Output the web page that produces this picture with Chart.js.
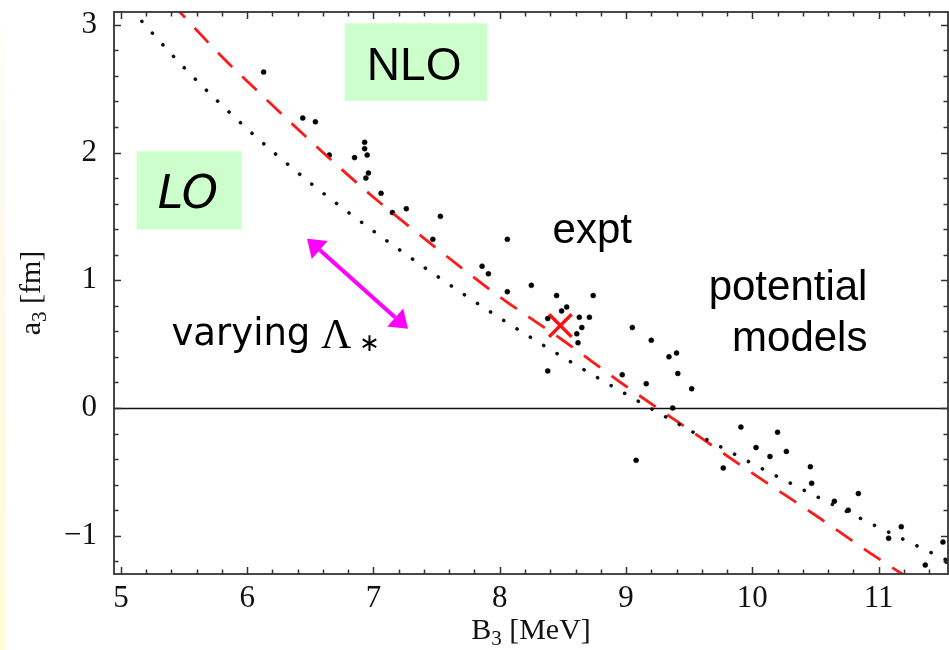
<!DOCTYPE html>
<html>
<head>
<meta charset="utf-8">
<title>a3 vs B3</title>
<script src="https://cdn.jsdelivr.net/npm/chart.js@4/dist/chart.umd.min.js"></script>
<style>
  html, body { margin: 0; padding: 0; background: #fff; }
  #wrap { position: relative; width: 949px; height: 650px; }
  #edge { position: absolute; left: 0; top: 0; width: 6px; height: 650px;
          background: linear-gradient(to bottom, #ffffff 0%, #fbfbf0 25%, #fffbd6 100%); }
  canvas { position: absolute; left: 0; top: 0; }
</style>
</head>
<body>
<div id="wrap"><div id="edge"></div><canvas id="chart" width="949" height="650"></canvas></div>
<script>
// LO curve (dotted)
const loB3 = [5.0, 5.5, 6.0, 6.5, 7.0, 7.5, 8.0, 8.5, 9.0, 9.5, 10.0, 10.5, 11.0, 11.6];
const loA3 = [3.21, 2.665, 2.185, 1.762, 1.385, 1.034, 0.705, 0.398, 0.108, -0.172, -0.435, -0.689, -0.934, -1.22];

// NLO curve (dashed)
const nloB3 = [5.4, 5.8, 6.2, 6.6, 7.0, 7.5, 8.0, 8.5, 9.0, 9.5, 10.0, 10.5, 11.0, 11.3];
const nloA3 = [3.17, 2.75, 2.37, 2.0, 1.65, 1.25, 0.87, 0.53, 0.17, -0.17, -0.51, -0.84, -1.18, -1.37];

// potential model results
const modelB3 = [6.13, 6.44, 6.54, 6.65, 6.85, 6.93, 6.93, 6.95, 6.96, 6.94, 7.06, 7.15, 7.26, 7.47, 7.53,
  7.86, 7.91, 8.06, 8.06, 8.25, 8.38, 8.38, 8.45, 8.49, 8.53, 8.61, 8.62, 8.63, 8.65, 8.71, 8.74,
  8.97, 9.05, 9.08, 9.16, 9.20, 9.34, 9.37, 9.40, 9.41, 9.52, 9.77, 9.91, 10.03, 10.14, 10.20, 10.27,
  10.46, 10.47, 10.65, 10.76, 10.84, 11.08, 11.18, 11.37, 11.51, 11.54];
const modelA3 = [2.63, 2.27, 2.24, 1.98, 1.96, 2.08, 2.03, 1.98, 1.84, 1.80, 1.68, 1.53, 1.56, 1.32, 1.50,
  1.11, 1.05, 1.32, 0.91, 0.96, 0.70, 0.29, 0.88, 0.76, 0.79, 0.58, 0.51, 0.71, 0.63, 0.71, 0.88,
  0.26, 0.63, -0.41, 0.19, 0.53, 0.40, 0.00, 0.43, 0.27, 0.15, -0.47, -0.15, -0.31, -0.38, -0.19, -0.34,
  -0.46, -0.59, -0.73, -0.80, -0.67, -1.02, -0.93, -1.23, -1.05, -1.20];

// experiment
const exptB3 = [8.48];
const exptA3 = [0.645];

const xTicks = [5, 6, 7, 8, 9, 10, 11];
const yTicks = [-1, 0, 1, 2, 3];
const minorStep = 0.2;

const toPoints = (xs, ys) => xs.map((x, i) => ({x: x, y: ys[i]}));

const serif = '"Liberation Serif", "Times New Roman", serif';
const sans = '"Liberation Sans", Arial, sans-serif';

// text labels, placed in data coordinates
const notes = [
  {text: 'NLO', x: 7.322, y: 2.567, font: '46px ' + sans, align: 'center'},
  {text: 'LO', x: 5.53, y: 1.563, font: 'italic 46px "DejaVu Sans", sans-serif', align: 'center'},
  {text: 'varying', x: 5.40, y: 0.489, font: '37px "DejaVu Sans", sans-serif', align: 'left'},
  {text: 'Λ', x: 6.585, y: 0.473, font: '42px ' + serif, align: 'left'},
  {text: '∗', x: 6.885, y: 0.445, font: '25px ' + serif, align: 'left'},
  {text: 'expt', x: 8.418, y: 1.289, font: '42px ' + sans, align: 'left'},
  {text: 'potential', x: 10.912, y: 0.842, font: '42px ' + sans, align: 'right'},
  {text: 'models', x: 10.912, y: 0.449, font: '42px ' + sans, align: 'right'}
];
const boxes = [
  {x0: 6.772, x1: 7.901, y0: 3.012, y1: 2.405},
  {x0: 5.124, x1: 5.955, y0: 2.010, y1: 1.398}
];
const arrow = {x0: 6.474, y0: 1.325, x1: 7.273, y1: 0.62};

const drawSubscripted = (ctx, base, sub, rest, size) => {
  const main = size + 'px ' + serif;
  const small = Math.round(size * 0.7) + 'px ' + serif;
  ctx.font = main;
  const w1 = ctx.measureText(base).width;
  const w3 = ctx.measureText(rest).width;
  ctx.font = small;
  const w2 = ctx.measureText(sub).width;
  let x = -(w1 + w2 + w3) / 2;
  ctx.textAlign = 'left';
  ctx.font = main;
  ctx.fillText(base, x, 0);
  x += w1;
  ctx.font = small;
  ctx.fillText(sub, x, size * 0.2);
  x += w2;
  ctx.font = main;
  ctx.fillText(rest, x, 0);
};

const frameAndNotes = {
  id: 'frameAndNotes',
  beforeDatasetsDraw(chart) {
    const {ctx, chartArea: a, scales: {y}} = chart;
    const y0 = Math.round(y.getPixelForValue(0)) + 0.5;
    ctx.save();
    ctx.strokeStyle = '#111';
    ctx.lineWidth = 1.4;
    ctx.beginPath();
    ctx.moveTo(a.left, y0);
    ctx.lineTo(a.right, y0);
    ctx.stroke();
    ctx.restore();
  },
  afterDatasetsDraw(chart) {
    const {ctx, chartArea: a, scales: {x, y}} = chart;
    ctx.save();

    // frame
    ctx.strokeStyle = '#333';
    ctx.lineWidth = 1.8;
    ctx.strokeRect(a.left, a.top, a.right - a.left, a.bottom - a.top);

    // inward ticks on all four sides
    ctx.lineWidth = 1.5;
    ctx.beginPath();
    for (let k = Math.ceil(x.min / minorStep); k * minorStep <= x.max; k++) {
      const v = k * minorStep;
      const len = xTicks.some(t => Math.abs(t - v) < 1e-6) ? 7 : 4.5;
      const px = Math.round(x.getPixelForValue(v)) + 0.5;
      ctx.moveTo(px, a.bottom); ctx.lineTo(px, a.bottom - len);
      ctx.moveTo(px, a.top); ctx.lineTo(px, a.top + len);
    }
    for (let k = Math.ceil(y.min / minorStep); k * minorStep <= y.max; k++) {
      const v = k * minorStep;
      const len = yTicks.some(t => Math.abs(t - v) < 1e-6) ? 7 : 4.5;
      const py = Math.round(y.getPixelForValue(v)) + 0.5;
      ctx.moveTo(a.left, py); ctx.lineTo(a.left + len, py);
      ctx.moveTo(a.right, py); ctx.lineTo(a.right - len, py);
    }
    ctx.stroke();

    // shaded label boxes
    ctx.fillStyle = '#ccffcc';
    boxes.forEach(b => {
      const l = x.getPixelForValue(b.x0), r = x.getPixelForValue(b.x1);
      const t = y.getPixelForValue(b.y0), btm = y.getPixelForValue(b.y1);
      ctx.fillRect(l, t, r - l, btm - t);
    });

    // labels
    ctx.fillStyle = '#000';
    ctx.textBaseline = 'alphabetic';
    notes.forEach(n => {
      ctx.font = n.font;
      ctx.textAlign = n.align;
      ctx.fillText(n.text, x.getPixelForValue(n.x), y.getPixelForValue(n.y));
    });

    // double-headed arrow
    const x0 = x.getPixelForValue(arrow.x0), y0 = y.getPixelForValue(arrow.y0);
    const x1 = x.getPixelForValue(arrow.x1), y1 = y.getPixelForValue(arrow.y1);
    const ang = Math.atan2(y1 - y0, x1 - x0);
    const head = 17, half = 12;
    ctx.strokeStyle = '#ff00ff';
    ctx.fillStyle = '#ff00ff';
    ctx.lineWidth = 4;
    ctx.beginPath();
    ctx.moveTo(x0 + Math.cos(ang) * head, y0 + Math.sin(ang) * head);
    ctx.lineTo(x1 - Math.cos(ang) * head, y1 - Math.sin(ang) * head);
    ctx.stroke();
    [[x0, y0, ang], [x1, y1, ang + Math.PI]].forEach(([tx, ty, t]) => {
      const bx = tx + Math.cos(t) * head, by = ty + Math.sin(t) * head;
      ctx.beginPath();
      ctx.moveTo(tx, ty);
      ctx.lineTo(bx - Math.sin(t) * half, by + Math.cos(t) * half);
      ctx.lineTo(bx + Math.sin(t) * half, by - Math.cos(t) * half);
      ctx.closePath();
      ctx.fill();
    });

    // axis titles
    ctx.fillStyle = '#111';
    ctx.save();
    ctx.translate((a.left + a.right) / 2, 639);
    drawSubscripted(ctx, 'B', '3', ' [MeV]', 30);
    ctx.restore();
    ctx.save();
    ctx.translate(40, (a.top + a.bottom) / 2);
    ctx.rotate(-Math.PI / 2);
    drawSubscripted(ctx, 'a', '3', ' [fm]', 30);
    ctx.restore();

    ctx.restore();
  }
};

new Chart(document.getElementById('chart'), {
  type: 'scatter',
  data: {
    datasets: [
      {
        data: toPoints(loB3, loA3),
        showLine: true,
        borderColor: '#111',
        borderWidth: 3.6,
        borderDash: [0.1, 15.6],
        borderCapStyle: 'round',
        cubicInterpolationMode: 'monotone',
        pointRadius: 0
      },
      {
        data: toPoints(nloB3, nloA3),
        showLine: true,
        borderColor: '#ff1a1a',
        borderWidth: 2.8,
        borderDash: [20, 14],
        cubicInterpolationMode: 'monotone',
        pointRadius: 0
      },
      {
        data: toPoints(modelB3, modelA3),
        pointRadius: 2.5,
        pointBackgroundColor: '#000',
        pointBorderColor: '#000',
        pointBorderWidth: 0.5
      },
      {
        data: toPoints(exptB3, exptA3),
        pointStyle: 'crossRot',
        pointRadius: 16,
        pointBorderColor: '#ff1010',
        pointBorderWidth: 3.5
      }
    ]
  },
  options: {
    responsive: false,
    devicePixelRatio: 1,
    animation: false,
    events: [],
    layout: {autoPadding: false, padding: {top: 12, right: 1, left: 0, bottom: 0}},
    plugins: {
      legend: {display: false},
      tooltip: {enabled: false}
    },
    scales: {
      x: {
        type: 'linear',
        min: 4.945,
        max: 11.55,
        afterBuildTicks: s => { s.ticks = xTicks.map(v => ({value: v})); },
        afterFit: s => { s.height = 76; s.paddingLeft = 0; s.paddingRight = 0; },
        grid: {display: false, drawTicks: false},
        border: {display: false},
        ticks: {
          color: '#111',
          font: {family: serif, size: 31},
          padding: 6,
          maxRotation: 0,
          autoSkip: false
        }
      },
      y: {
        type: 'linear',
        min: -1.30,
        max: 3.10,
        afterBuildTicks: s => { s.ticks = yTicks.map(v => ({value: v})); },
        afterFit: s => { s.width = 114; s.paddingTop = 0; s.paddingBottom = 0; },
        grid: {display: false, drawTicks: false},
        border: {display: false},
        ticks: {
          color: '#111',
          font: {family: serif, size: 31},
          padding: 17,
          callback: v => String(v).replace('-', '\u2212')
        }
      }
    }
  },
  plugins: [frameAndNotes]
});
</script>
</body>
</html>
